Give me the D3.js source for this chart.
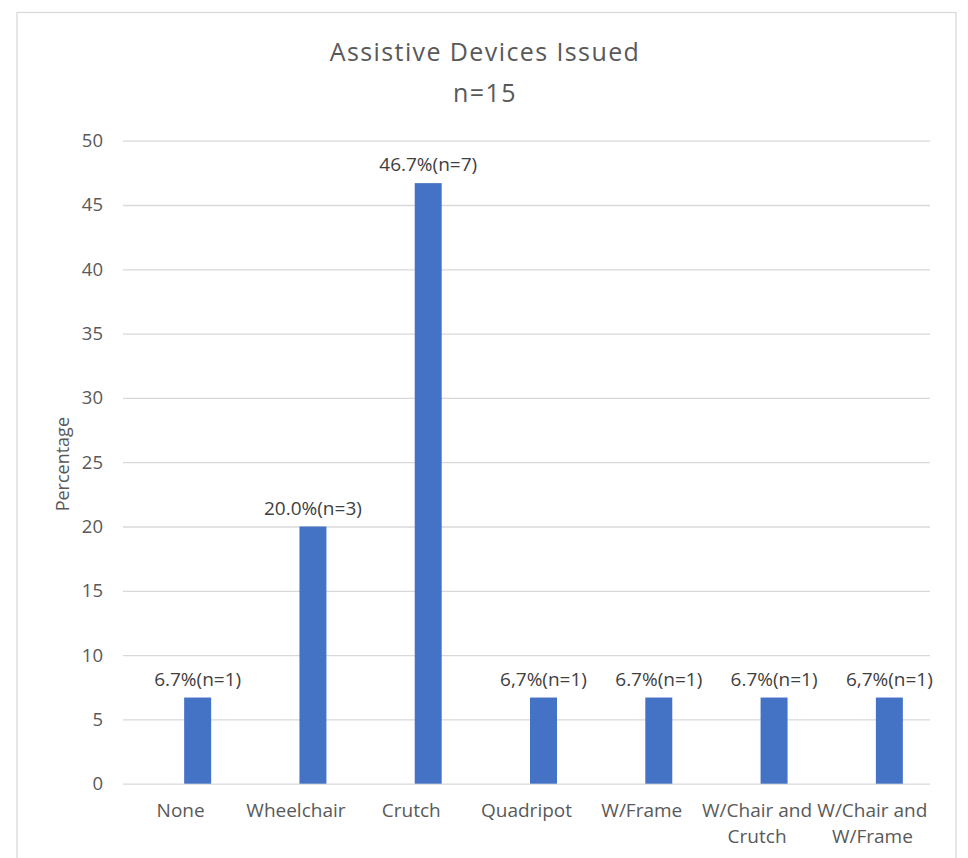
<!DOCTYPE html>
<html>
<head>
<meta charset="utf-8">
<script src="https://cdn.jsdelivr.net/npm/d3@7"></script>
<style>
  html, body { margin: 0; padding: 0; background: #ffffff; }
  svg { display: block; }
</style>
</head>
<body>
<svg id="chart" width="968" height="858"></svg>
<script>
const categories = ["None", "Wheelchair", "Crutch", "Quadripot", "W/Frame", "W/Chair and Crutch", "W/Chair and W/Frame"];
const percentages = [6.7, 20.0, 46.7, 6.7, 6.7, 6.7, 6.7];
const dataLabels = ["6.7%(n=1)", "20.0%(n=3)", "46.7%(n=7)", "6,7%(n=1)", "6.7%(n=1)", "6.7%(n=1)", "6,7%(n=1)"];
const yTicks = [0, 5, 10, 15, 20, 25, 30, 35, 40, 45, 50];
const titleLines = ["Assistive Devices Issued", "n=15"];
const yAxisTitle = "Percentage";

const FONT = "'Open Sans', 'Noto Sans', sans-serif";
const svg = d3.select("#chart");

// chart frame
svg.append("rect")
  .attr("x", 17).attr("y", 12.5)
  .attr("width", 939).attr("height", 860)
  .attr("fill", "#ffffff")
  .attr("stroke", "#d9d9d9").attr("stroke-width", 1.3);

const plot = { left: 123, right: 930, top: 140.7, bottom: 783.7 };

const y = d3.scaleLinear().domain([0, 50]).range([plot.bottom, plot.top]);
const xCat = d3.scaleBand().domain(categories).range([plot.left, plot.right]);
const xBar = d3.scaleBand().domain(categories).range([plot.left + 17, plot.right + 17]).paddingInner(0.766).paddingOuter(0.383);

// gridlines
const yAxis = d3.axisLeft(y).tickValues(yTicks).tickSize(-(plot.right - plot.left)).tickPadding(20).tickFormat(d3.format("d"));
const gy = svg.append("g").attr("transform", `translate(${plot.left},0)`).call(yAxis);
gy.select(".domain").remove();
gy.selectAll(".tick line").attr("stroke", "#d9d9d9").attr("stroke-width", 1.3);
gy.selectAll(".tick text")
  .attr("fill", "#595959")
  .style("font-family", FONT)
  .style("font-size", "18.5px");

// bars
svg.append("g").selectAll("rect")
  .data(categories)
  .join("rect")
  .attr("x", d => xBar(d))
  .attr("width", xBar.bandwidth())
  .attr("y", (d, i) => y(percentages[i]))
  .attr("height", (d, i) => y(0) - y(percentages[i]))
  .attr("fill", "#4472c4");

// data labels
svg.append("g").selectAll("text")
  .data(categories)
  .join("text")
  .attr("x", d => xBar(d) + xBar.bandwidth() / 2)
  .attr("y", (d, i) => y(percentages[i]) - 12)
  .attr("text-anchor", "middle")
  .attr("fill", "#404040")
  .style("font-family", FONT)
  .style("font-size", "19px")
  .text((d, i) => dataLabels[i]);

// x axis category labels (wrapped)
const xAxis = d3.axisBottom(xCat).tickSize(0).tickPadding(20);
const gx = svg.append("g").attr("transform", `translate(0,${plot.bottom})`).call(xAxis);
gx.select(".domain").remove();
gx.selectAll(".tick text")
  .attr("fill", "#595959")
  .style("font-family", FONT)
  .style("font-size", "19px")
  .each(function(d) {
    const t = d3.select(this);
    const words = d.split(" ");
    const maxW = xCat.bandwidth();
    t.text(null);
    let line = [];
    let lineNo = 0;
    let tspan = t.append("tspan").attr("x", 0).attr("dy", "0.71em");
    for (const w of words) {
      line.push(w);
      tspan.text(line.join(" "));
      if (tspan.node().getComputedTextLength() > maxW && line.length > 1) {
        line.pop();
        tspan.text(line.join(" "));
        line = [w];
        lineNo++;
        tspan = t.append("tspan").attr("x", 0).attr("dy", "26px").text(w);
      }
    }
  });

// y axis title
svg.append("text")
  .attr("transform", `translate(69,${(plot.top + plot.bottom) / 2 + 2}) rotate(-90)`)
  .attr("text-anchor", "middle")
  .attr("fill", "#595959")
  .style("font-family", FONT)
  .style("font-size", "18px")
  .text(yAxisTitle);

// title
svg.append("g").selectAll("text")
  .data(titleLines)
  .join("text")
  .attr("x", 485)
  .attr("y", (d, i) => 60.5 + i * 41.5)
  .attr("text-anchor", "middle")
  .attr("fill", "#595959")
  .style("font-family", FONT)
  .style("font-size", "25px")
  .style("letter-spacing", "1.4px")
  .text(d => d);
</script>
</body>
</html>
